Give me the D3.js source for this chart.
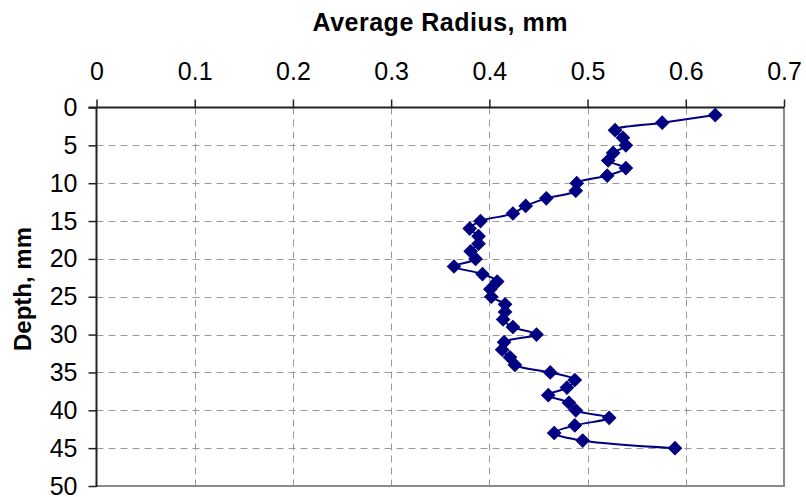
<!DOCTYPE html>
<html>
<head>
<meta charset="utf-8">
<script src="https://cdn.jsdelivr.net/npm/d3@7"></script>
<style>
  html, body { margin: 0; padding: 0; background: #fff; }
  svg { display: block; font-family: "Liberation Sans", Arial, sans-serif; }
</style>
</head>
<body>
<svg id="chart" width="806" height="497"></svg>
<script>
// ---- data ----
const depths = [1,2,3,4,5,6,7,8,9,10,11,12,13,14,15,16,17,18,19,20,21,22,23,24,25,26,27,28,29,30,31,32,33,34,35,36,37,38,39,40,41,42,43,44,45];
const radius = [0.630,0.576,0.528,0.536,0.539,0.526,0.521,0.539,0.520,0.489,0.488,0.458,0.437,0.424,0.391,0.380,0.389,0.389,0.381,0.386,0.364,0.393,0.408,0.401,0.402,0.416,0.416,0.414,0.424,0.448,0.415,0.413,0.421,0.426,0.462,0.487,0.479,0.460,0.481,0.488,0.522,0.487,0.466,0.495,0.589];
const xTicks = [0,0.1,0.2,0.3,0.4,0.5,0.6,0.7];
const yTicks = [0,5,10,15,20,25,30,35,40,45,50];
const xTitle = "Average Radius, mm";
const yTitle = "Depth, mm";

(function () {
const points = depths.map((d, i) => ({ depth: d, r: radius[i] }));

const svg = d3.select("#chart");
const pL = 96.5, pR = 784, pT = 107.5, pB = 486;

const x = d3.scaleLinear().domain([0, 0.7]).range([pL, pR]);
const y = d3.scaleLinear().domain([0, 50]).range([pT, pB]);

// gridlines
const grid = svg.append("g").attr("stroke", "#9a9a9a").attr("stroke-width", 1).attr("stroke-dasharray", "7,5").attr("fill", "none");
grid.selectAll("line.v").data(xTicks.filter(t => t > 0 && t < 0.7)).join("line")
  .attr("x1", d => Math.round(x(d)) + 0.5).attr("x2", d => Math.round(x(d)) + 0.5)
  .attr("y1", pT).attr("y2", pB);
grid.selectAll("line.h").data(yTicks.filter(t => t > 0 && t < 50)).join("line")
  .attr("y1", d => Math.round(y(d)) + 0.5).attr("y2", d => Math.round(y(d)) + 0.5)
  .attr("x1", pL).attr("x2", pR);

// plot border (right, bottom) gray
svg.append("line").attr("x1", pR).attr("x2", pR).attr("y1", pT).attr("y2", pB + 1)
  .attr("stroke", "#8a8a8a").attr("stroke-width", 2);
svg.append("line").attr("x1", pL).attr("x2", pR + 1).attr("y1", pB).attr("y2", pB)
  .attr("stroke", "#8a8a8a").attr("stroke-width", 2);

// top x axis
const xAxis = d3.axisTop(x).tickValues(xTicks).tickSize(8).tickPadding(20)
  .tickFormat(d => d === 0 ? "0" : d3.format(".1f")(d));
const gx = svg.append("g").attr("transform", `translate(0,${pT})`).call(xAxis);
gx.select(".domain").attr("stroke", "#222").attr("stroke-width", 2).attr("d", `M${pL - 8},0H${pR}`);
gx.selectAll(".tick line").attr("stroke", "#222").attr("stroke-width", 1.5);
gx.selectAll(".tick text").attr("font-size", 25).attr("fill", "#000")
  .attr("font-family", "Liberation Sans, Arial, sans-serif");

// left y axis
const yAxis = d3.axisLeft(y).tickValues(yTicks).tickSize(8).tickPadding(11);
const gy = svg.append("g").attr("transform", `translate(${pL},0)`).call(yAxis);
gy.select(".domain").attr("stroke", "#222").attr("stroke-width", 2).attr("d", `M0,${pT}V${pB + 1}`);
gy.selectAll(".tick line").attr("stroke", "#222").attr("stroke-width", 1.5);
gy.selectAll(".tick text").attr("font-size", 25).attr("fill", "#000")
  .attr("font-family", "Liberation Sans, Arial, sans-serif");

// titles
svg.append("text").attr("x", (pL + pR) / 2).attr("y", 31)
  .attr("text-anchor", "middle").attr("font-size", 25).attr("font-weight", "bold")
  .attr("letter-spacing", 0.5).text(xTitle);
svg.append("text").attr("transform", `translate(31,289) rotate(-90)`)
  .attr("text-anchor", "middle").attr("font-size", 24).attr("font-weight", "bold")
  .text(yTitle);

// line
const line = d3.line().x(d => x(d.r)).y(d => y(d.depth)).curve(d3.curveCatmullRom.alpha(0.5));
svg.append("path").datum(points).attr("d", line)
  .attr("fill", "none").attr("stroke", "#000080").attr("stroke-width", 2);

// markers
const sym = d3.symbol().type(d3.symbolSquare).size(88);
svg.append("g").selectAll("path").data(points).join("path")
  .attr("d", sym)
  .attr("transform", d => `translate(${x(d.r)},${y(d.depth)}) rotate(45)`)
  .attr("fill", "#000080").attr("stroke", "#000080").attr("stroke-width", 1);
})();
</script>
</body>
</html>
